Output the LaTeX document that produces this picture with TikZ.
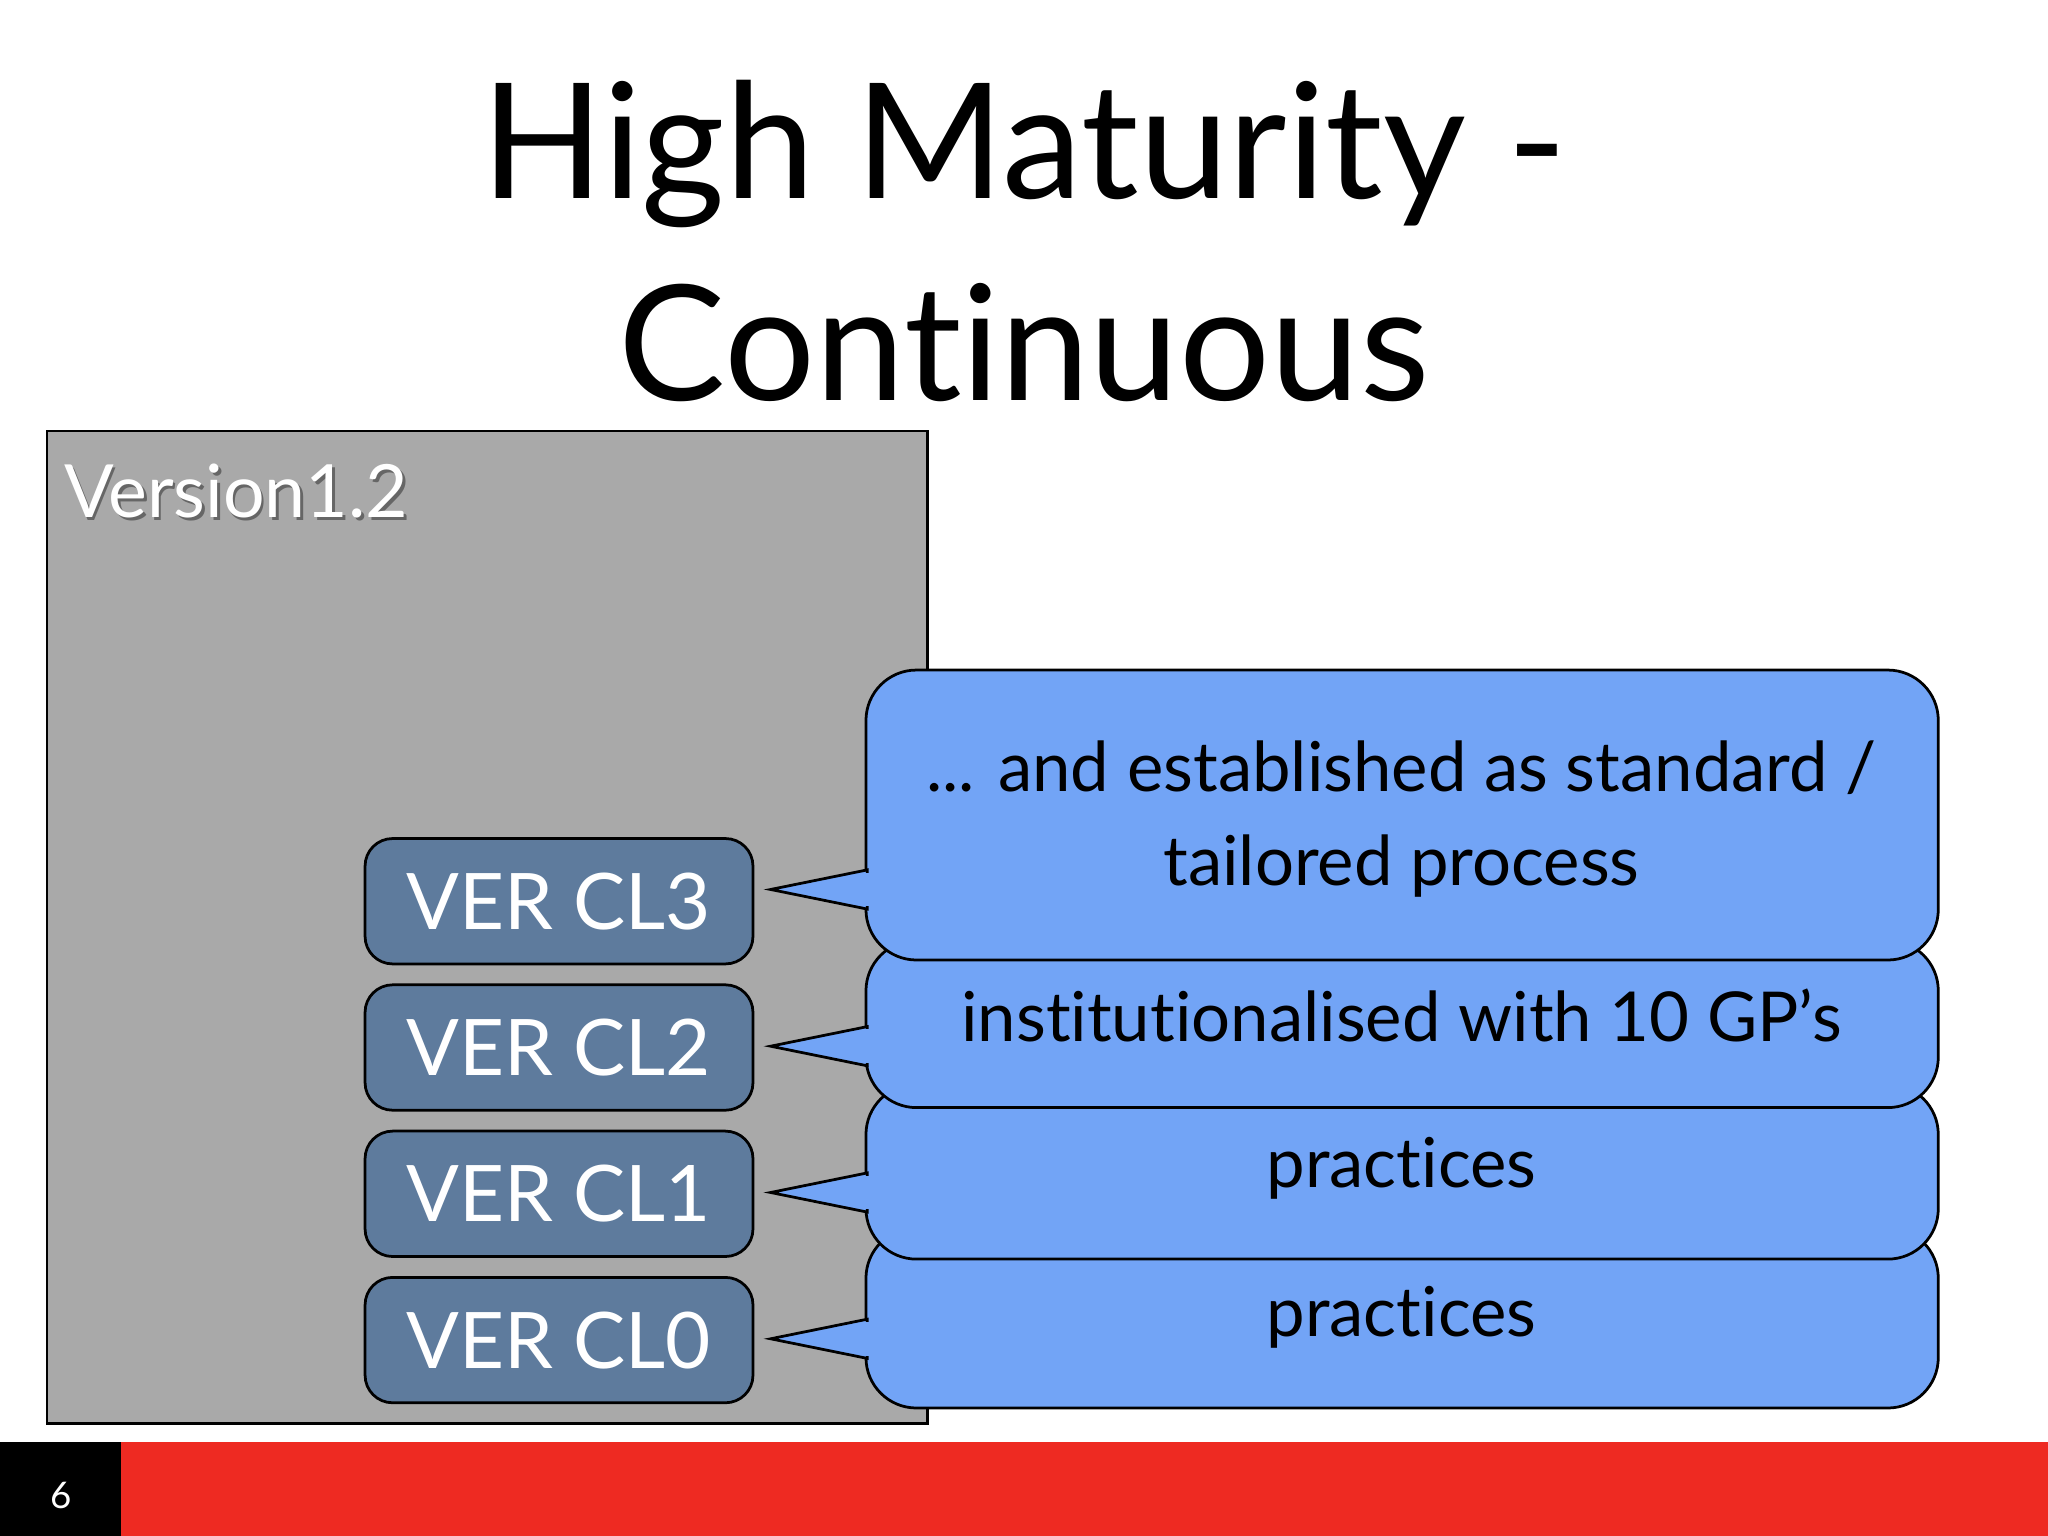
\documentclass[tikz,border=0pt]{standalone}
\usepackage{fontspec}
\setmainfont{Lato}[Ligatures={NoCommon}]
\definecolor{boxgray}{HTML}{A9A9A9}
\definecolor{clblue}{HTML}{5E7B9D}
\definecolor{callblue}{HTML}{72A4F6}
\definecolor{barred}{HTML}{EE2A22}
\tikzset{
  clbox/.style={draw=black, line width=1.2pt, fill=clblue, rounded corners=12pt, minimum width=297*0.02cm, minimum height=96*0.02cm, text=white, font=\fontsize{34}{40}\selectfont},
  callbox/.style={draw=black, line width=1.2pt, fill=callblue, rounded corners=22pt},
  callptr/.style={draw=black, line width=1.2pt, fill=callblue},
  calltext/.style={font=\fontsize{30}{41}\selectfont, align=center, text=black}
}
\begin{document}
\begin{tikzpicture}[x=0.02cm,y=-0.02cm]
\useasboundingbox (0,0) rectangle (1568,1176);
\fill[white] (0,0) rectangle (1568,1176);
\node[font=\fontsize{70}{74}\selectfont] (t1) at (784,118) {High Maturity -};
\node[font=\fontsize{70}{74}\selectfont] (t2) at (784,262) {Continuous};
\draw[line width=1.2pt, fill=boxgray] (36,330) rectangle (710,1090);
\node[anchor=west, text=black!60, font=\fontsize{32}{36}\selectfont] at (45,378) {Version1.2};
\node[anchor=west, text=white, font=\fontsize{32}{36}\selectfont] (ver) at (43,376) {Version1.2};
% CL0
\draw[callbox] (663,940) rectangle (1484,1078);
\filldraw[callptr] (664,1010)--(590,1025)--(664,1040)--cycle;
\fill[callblue] (662,1012) rectangle (666,1038);
\node[calltext] (c0) at (1073,972) {Process performed using generic\\practices};
% CL1
\draw[callbox] (663,830) rectangle (1484,964);
\filldraw[callptr] (664,898)--(590,913)--(664,928)--cycle;
\fill[callblue] (662,900) rectangle (666,926);
\node[calltext] (c1) at (1073,858) {Process performed using generic\\practices};
% CL2
\draw[callbox] (663,720) rectangle (1484,848);
\filldraw[callptr] (664,786)--(590,801)--(664,816)--cycle;
\fill[callblue] (662,788) rectangle (666,814);
\node[calltext] (c2) at (1073,742) {... and planned, performed and\\institutionalised with 10 GP’s};
% CL3
\draw[callbox] (663,513) rectangle (1484,735);
\filldraw[callptr] (664,666)--(590,681)--(664,696)--cycle;
\fill[callblue] (662,668) rectangle (666,694);
\node[calltext] (c3) at (1073,627) {... and established as standard /\\tailored process};
\node[clbox] (cl3) at (428,690) {VER CL3};
\node[clbox] (cl2) at (428,802) {VER CL2};
\node[clbox] (cl1) at (428,914) {VER CL1};
\node[clbox] (cl0) at (428,1026) {VER CL0};
\fill[barred] (93,1104) rectangle (1568,1176);
\fill[black] (0,1104) rectangle (93,1176);
\node[text=white, font=\fontsize{16}{18}\selectfont] (pg) at (47,1145) {6};
\end{tikzpicture}
\end{document}
